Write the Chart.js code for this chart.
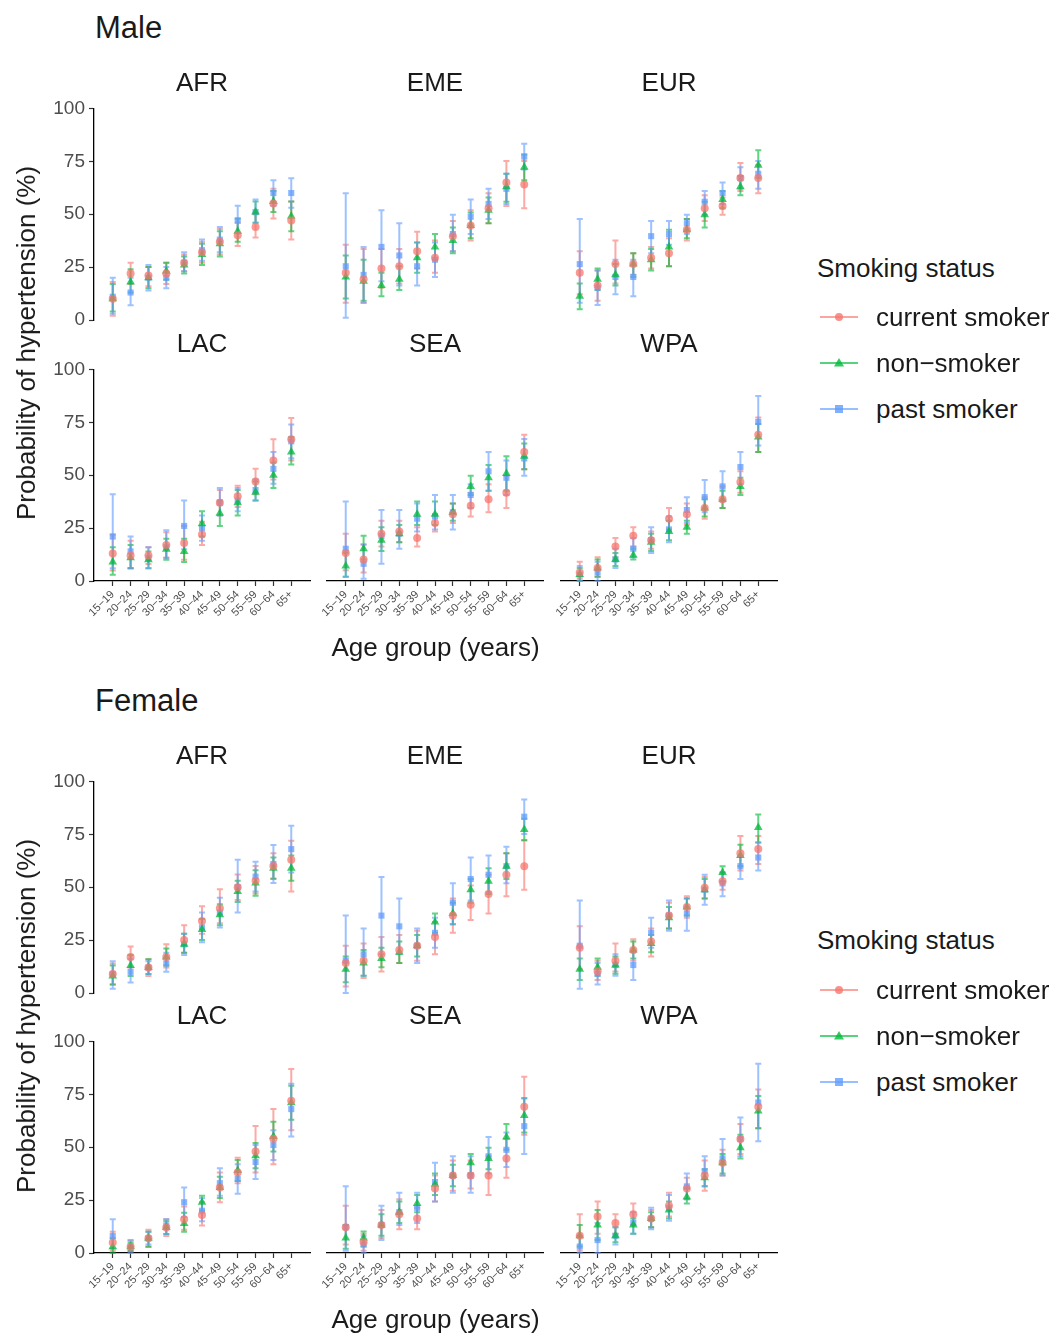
<!DOCTYPE html>
<html>
<head>
<meta charset="utf-8">
<script src="https://cdn.jsdelivr.net/npm/chart.js@4.4.1/dist/chart.umd.min.js"></script>
<style>
  body { margin: 0; background: #fff; width: 1056px; height: 1334px; position: relative; overflow: hidden;
         font-family: "Liberation Sans", Arial, sans-serif; color: #1a1a1a; }
  .txt { position: absolute; white-space: nowrap; line-height: 1; }
  canvas { position: absolute; }
</style>
</head>
<body>
<script>
// Categories and ticks
const ageGroups = ['15\u221219','20\u221224','25\u221229','30\u221234','35\u221239','40\u221244','45\u221249','50\u221254','55\u221259','60\u221264','65+'];
const regions = ['AFR','EME','EUR','LAC','SEA','WPA'];
const yTicks = [0, 25, 50, 75, 100];
const smokingLabels = ['current smoker', 'non\u2212smoker', 'past smoker'];

// [estimate, lower, upper] per age group
const male_AFR_cur  = [[10,2,18],[22,17,27],[21,16,25],[22,17,27],[27,23,31],[32,27,37],[37,31,43],[40,35,46],[44,39,50],[55,48,62],[47,38,56]];
const male_AFR_non  = [[10,4,17],[18,13,24],[20,15,25],[23,19,27],[26,22,30],[31,26,36],[36,30,42],[42,37,48],[51,46,56],[56,51,61],[49,42,56]];
const male_AFR_past = [[11,3,20],[13,7,20],[20,14,26],[20,15,25],[27,23,32],[33,28,38],[38,32,44],[47,41,54],[51,46,57],[60,54,66],[60,53,67]];

const male_EME_cur  = [[22,8,35],[19,8,33],[24,15,33],[25,17,33],[32,24,41],[29,22,37],[39,32,46],[44,37,51],[52,45,59],[64,53,74],[63,52,74]];
const male_EME_non  = [[20,10,30],[18,9,28],[16,11,22],[19,14,25],[29,22,36],[34,28,40],[37,31,43],[44,38,50],[51,45,57],[62,55,68],[71,65,77]];
const male_EME_past = [[25,1,59],[21,8,34],[34,18,51],[30,16,45],[25,16,36],[28,20,36],[40,32,49],[48,40,56],[54,47,61],[61,54,68],[76,70,82]];

const male_EUR_cur  = [[22,12,32],[16,9,23],[26,17,37],[26,21,31],[29,24,34],[31,25,38],[42,37,47],[52,46,58],[53,49,57],[66,60,73],[66,59,72]];
const male_EUR_non  = [[11,5,17],[19,14,24],[21,16,26],[26,20,31],[28,23,33],[34,25,42],[42,38,47],[49,43,55],[56,52,60],[62,58,67],[72,66,79]];
const male_EUR_past = [[26,8,47],[15,7,23],[20,12,28],[20,11,28],[39,31,46],[40,35,46],[45,40,49],[55,49,60],[59,54,64],[66,61,71],[68,61,74]];

const male_LAC_cur  = [[13,5,22],[12,6,19],[12,8,16],[17,11,23],[18,10,26],[22,17,28],[37,31,43],[40,35,45],[47,41,53],[57,48,67],[67,57,77]];
const male_LAC_non  = [[9,3,16],[11,6,17],[10,6,14],[15,10,20],[14,9,20],[27,21,33],[32,26,38],[37,31,43],[42,38,47],[50,44,56],[61,55,68]];
const male_LAC_past = [[21,6,41],[14,6,21],[11,6,16],[16,11,24],[26,15,38],[25,19,31],[37,31,44],[38,33,44],[43,38,48],[53,46,61],[66,58,74]];

const male_SEA_cur  = [[13,5,22],[10,4,17],[22,16,28],[23,18,28],[20,16,25],[27,23,31],[31,27,36],[35,30,41],[38,32,45],[41,34,49],[60,52,68]];
const male_SEA_non  = [[7,2,13],[15,10,21],[19,14,25],[22,18,26],[31,26,37],[31,26,37],[32,28,36],[44,40,49],[48,42,54],[50,42,58],[58,52,64]];
const male_SEA_past = [[15,2,37],[8,1,17],[21,8,33],[22,15,33],[29,23,36],[30,24,40],[32,24,40],[40,34,45],[51,42,60],[48,40,56],[57,49,66]];

const male_WPA_cur  = [[4,1,9],[6,2,11],[16,11,20],[21,16,25],[19,15,23],[29,24,34],[31,26,36],[34,29,39],[38,34,44],[46,41,51],[68,60,76]];
const male_WPA_non  = [[3,0,6],[6,2,10],[10,7,13],[12,10,15],[18,14,22],[23,19,28],[25,22,28],[34,30,38],[38,34,42],[44,40,48],[67,60,73]];
const male_WPA_past = [[3,0,7],[4,0,9],[10,6,15],[15,11,20],[19,13,25],[24,18,30],[33,27,39],[39,32,47],[44,37,51],[53,45,60],[74,63,86]];

const female_AFR_cur  = [[9,4,14],[17,12,22],[12,8,16],[17,12,23],[25,19,32],[34,28,41],[40,33,49],[50,44,56],[53,47,60],[60,54,66],[63,48,72]];
const female_AFR_non  = [[8,4,13],[13,8,18],[12,9,16],[17,13,21],[23,19,28],[30,25,35],[37,32,42],[48,43,53],[52,46,58],[59,54,64],[59,53,65]];
const female_AFR_past = [[9,2,15],[10,5,16],[12,9,15],[14,10,19],[23,18,28],[31,24,38],[38,31,45],[50,38,63],[55,48,62],[61,52,70],[68,57,79]];

const female_EME_cur  = [[14,3,22],[15,7,23],[18,10,26],[20,14,27],[22,15,29],[26,18,33],[36,28,44],[41,34,50],[46,37,55],[55,45,65],[59,48,71]];
const female_EME_non  = [[11,5,17],[14,8,20],[16,12,21],[19,14,24],[22,17,27],[33,28,37],[37,32,42],[48,42,53],[52,46,58],[59,53,65],[76,71,81]];
const female_EME_past = [[15,0,36],[18,8,30],[36,18,54],[31,18,44],[22,14,30],[28,21,35],[42,32,51],[53,43,63],[55,47,64],[59,51,68],[82,74,90]];

const female_EUR_cur  = [[21,11,31],[10,6,15],[15,10,23],[20,15,25],[24,17,30],[36,30,42],[40,35,45],[49,44,54],[52,48,56],[65,57,73],[67,60,73]];
const female_EUR_non  = [[11,6,16],[12,8,16],[13,9,17],[20,16,24],[23,19,27],[35,30,40],[40,36,44],[48,44,53],[56,52,59],[64,59,69],[77,70,83]];
const female_EUR_past = [[22,2,43],[9,4,14],[13,8,18],[13,6,19],[28,21,35],[36,29,43],[37,29,44],[48,41,55],[51,45,56],[59,53,64],[63,57,70]];

const female_LAC_cur  = [[5,1,10],[3,1,6],[7,3,11],[12,8,16],[16,11,22],[18,13,24],[31,24,38],[38,33,45],[48,38,60],[54,42,68],[72,58,87]];
const female_LAC_non  = [[3,0,7],[3,1,5],[7,3,10],[12,9,15],[14,10,19],[24,20,27],[31,26,36],[39,34,44],[46,40,52],[55,48,62],[71,63,79]];
const female_LAC_past = [[8,2,16],[3,0,6],[7,4,10],[13,9,16],[24,17,31],[20,15,26],[33,27,40],[35,28,42],[43,35,51],[51,44,58],[68,55,80]];

const female_SEA_cur  = [[12,4,22],[5,1,9],[13,7,20],[18,11,25],[16,11,21],[30,24,36],[36,29,43],[36,30,43],[36,27,45],[44,35,53],[68,55,82]];
const female_SEA_non  = [[7,2,13],[7,3,10],[13,8,18],[19,14,24],[23,19,27],[32,27,37],[36,31,41],[42,37,46],[44,39,49],[54,48,60],[64,56,72]];
const female_SEA_past = [[12,1,31],[4,0,8],[13,6,22],[19,13,28],[21,14,28],[33,24,42],[36,28,45],[36,28,45],[45,37,54],[48,40,56],[59,46,72]];

const female_WPA_cur  = [[8,1,18],[17,9,24],[14,9,18],[18,13,23],[16,12,20],[22,17,28],[30,25,35],[36,29,43],[42,36,48],[53,46,60],[68,58,76]];
const female_WPA_non  = [[8,3,13],[13,6,20],[8,5,12],[13,9,16],[16,12,19],[20,16,24],[26,23,30],[35,31,39],[42,37,46],[49,44,55],[66,58,73]];
const female_WPA_past = [[3,0,8],[6,0,14],[8,4,12],[14,9,19],[16,11,21],[21,15,27],[31,25,37],[38,31,45],[44,36,53],[53,45,63],[70,52,88]];

// ggplot default hues
const seriesRGB = ['248,118,109', '0,186,56', '97,156,255'];
const pointStyles = ['circle', 'triangle', 'rect'];
const pointRadius = [4, 5, 4.3];

// Layout of panels
const colX = [94, 327, 561];
const rowTop = [105, 366, 778, 1038];
const plotW = 216, plotH = 215;
const padL = 60, padT = 12, padR = 12, padB = 62;
const FONT = '"Liberation Sans", Arial, sans-serif';

function addText(str, x, y, size, opts = {}) {
  const d = document.createElement('div');
  d.className = 'txt';
  d.textContent = str;
  d.style.left = x + 'px';
  d.style.top = y + 'px';
  d.style.fontSize = size + 'px';
  let tf = opts.center ? 'translate(-50%,-50%)' : 'translate(0,-50%)';
  if (opts.rotate) tf += ' rotate(' + opts.rotate + 'deg)';
  d.style.transform = tf;
  document.body.appendChild(d);
  return d;
}

// error bars drawn through the chart scales
const errorBarPlugin = {
  id: 'errorBars',
  beforeDatasetsDraw(chart) {
    const { ctx, scales: { x, y } } = chart;
    chart.data.datasets.forEach(ds => {
      ctx.save();
      ctx.strokeStyle = ds.barColor;
      ctx.lineWidth = 2;
      ds.err.forEach((t, i) => {
        const px = x.getPixelForValue(i);
        const lo = y.getPixelForValue(t[1]);
        const hi = y.getPixelForValue(t[2]);
        ctx.beginPath();
        ctx.moveTo(px, lo); ctx.lineTo(px, hi);
        ctx.moveTo(px - 3, lo); ctx.lineTo(px + 3, lo);
        ctx.moveTo(px - 3, hi); ctx.lineTo(px + 3, hi);
        ctx.stroke();
      });
      ctx.restore();
    });
  }
};

function makePanel(series, col, row, showY, showX) {
  const c = document.createElement('canvas');
  const w = plotW + padL + padR, h = plotH + padT + padB;
  c.width = w; c.height = h;
  c.style.width = w + 'px'; c.style.height = h + 'px';
  c.style.left = (colX[col] - padL) + 'px';
  c.style.top = (rowTop[row] - padT) + 'px';
  document.body.appendChild(c);

  const datasets = series.map((s, k) => ({
    label: smokingLabels[k],
    data: s.map((t, i) => ({ x: i, y: t[0] })),
    err: s,
    barColor: 'rgba(' + seriesRGB[k] + ',0.62)',
    backgroundColor: 'rgba(' + seriesRGB[k] + ',0.75)',
    borderColor: 'rgba(' + seriesRGB[k] + ',0.75)',
    borderWidth: 0,
    pointStyle: pointStyles[k],
    pointRadius: pointRadius[k],
    showLine: false,
    clip: false
  }));

  new Chart(c, {
    type: 'scatter',
    data: { datasets },
    options: {
      responsive: false,
      animation: false,
      events: [],
      layout: { padding: { top: padT, right: padR, left: 0, bottom: 0 } },
      plugins: { legend: { display: false }, tooltip: { enabled: false } },
      scales: {
        x: {
          type: 'linear', min: -1.05, max: 11.05,
          afterFit: s => { s.height = padB; },
          afterBuildTicks: s => { s.ticks = ageGroups.map((_, i) => ({ value: i })); },
          ticks: {
            display: showX, autoSkip: false, minRotation: 45, maxRotation: 45, padding: 2,
            color: '#4d4d4d', font: { family: FONT, size: 11 },
            callback: v => ageGroups[v]
          },
          grid: { display: showX, drawOnChartArea: false, tickLength: 5, tickColor: '#333', tickWidth: 1.2 },
          border: { display: showX, color: '#000', width: 1.3 }
        },
        y: {
          min: 0, max: 100,
          afterFit: s => { s.width = padL; },
          afterBuildTicks: s => { s.ticks = yTicks.map(v => ({ value: v })); },
          ticks: {
            display: showY, padding: 4,
            color: '#4d4d4d', font: { family: FONT, size: 19 }
          },
          grid: { display: showY, drawOnChartArea: false, tickLength: 5, tickColor: '#333', tickWidth: 1.2 },
          border: { display: showY, color: '#000', width: 1.3 }
        }
      }
    },
    plugins: [errorBarPlugin]
  });
}

function keySvg(k) {
  const col = 'rgba(' + seriesRGB[k] + ',0.8)';
  let marker;
  if (k === 0) marker = '<circle cx="20" cy="10" r="4" fill="' + col + '"/>';
  else if (k === 1) marker = '<polygon points="20,5 25,13.5 15,13.5" fill="' + col + '"/>';
  else marker = '<rect x="16" y="6" width="8" height="8" fill="' + col + '"/>';
  return '<svg width="40" height="20" style="position:absolute;left:0;top:0">' +
    '<line x1="1" y1="10" x2="39" y2="10" stroke="rgba(' + seriesRGB[k] + ',0.65)" stroke-width="2"/>' + marker + '</svg>';
}

function makeLegend(titleY, itemYs) {
  addText('Smoking status', 817, titleY, 26);
  itemYs.forEach((yy, k) => {
    const box = document.createElement('div');
    box.style.position = 'absolute';
    box.style.left = '819px';
    box.style.top = (yy - 10) + 'px';
    box.style.width = '40px';
    box.style.height = '20px';
    box.innerHTML = keySvg(k);
    document.body.appendChild(box);
    addText(smokingLabels[k], 876, yy, 26);
  });
}

const malePanels = [
  [male_AFR_cur, male_AFR_non, male_AFR_past],
  [male_EME_cur, male_EME_non, male_EME_past],
  [male_EUR_cur, male_EUR_non, male_EUR_past],
  [male_LAC_cur, male_LAC_non, male_LAC_past],
  [male_SEA_cur, male_SEA_non, male_SEA_past],
  [male_WPA_cur, male_WPA_non, male_WPA_past]
];
const femalePanels = [
  [female_AFR_cur, female_AFR_non, female_AFR_past],
  [female_EME_cur, female_EME_non, female_EME_past],
  [female_EUR_cur, female_EUR_non, female_EUR_past],
  [female_LAC_cur, female_LAC_non, female_LAC_past],
  [female_SEA_cur, female_SEA_non, female_SEA_past],
  [female_WPA_cur, female_WPA_non, female_WPA_past]
];

function drawSection(panels, rowOffset) {
  panels.forEach((series, p) => {
    const col = p % 3, r = Math.floor(p / 3);
    const row = rowOffset + r;
    makePanel(series, col, row, col === 0, r === 1);
    addText(regions[p], colX[col] + plotW / 2, rowTop[row] - 23, 26, { center: true });
  });
  const midY = (rowTop[rowOffset] + rowTop[rowOffset + 1] + plotH) / 2;
  addText('Probability of hypertension (%)', 26, midY, 26, { center: true, rotate: -90 });
  addText('Age group (years)', (colX[0] + colX[2] + plotW) / 2, rowTop[rowOffset + 1] + plotH + 66, 26, { center: true });
}

addText('Male', 95, 27, 31);
drawSection(malePanels, 0);
makeLegend(268, [317, 363, 409]);

addText('Female', 95, 700, 31);
drawSection(femalePanels, 2);
makeLegend(940, [990, 1036, 1082]);
</script>
</body>
</html>
